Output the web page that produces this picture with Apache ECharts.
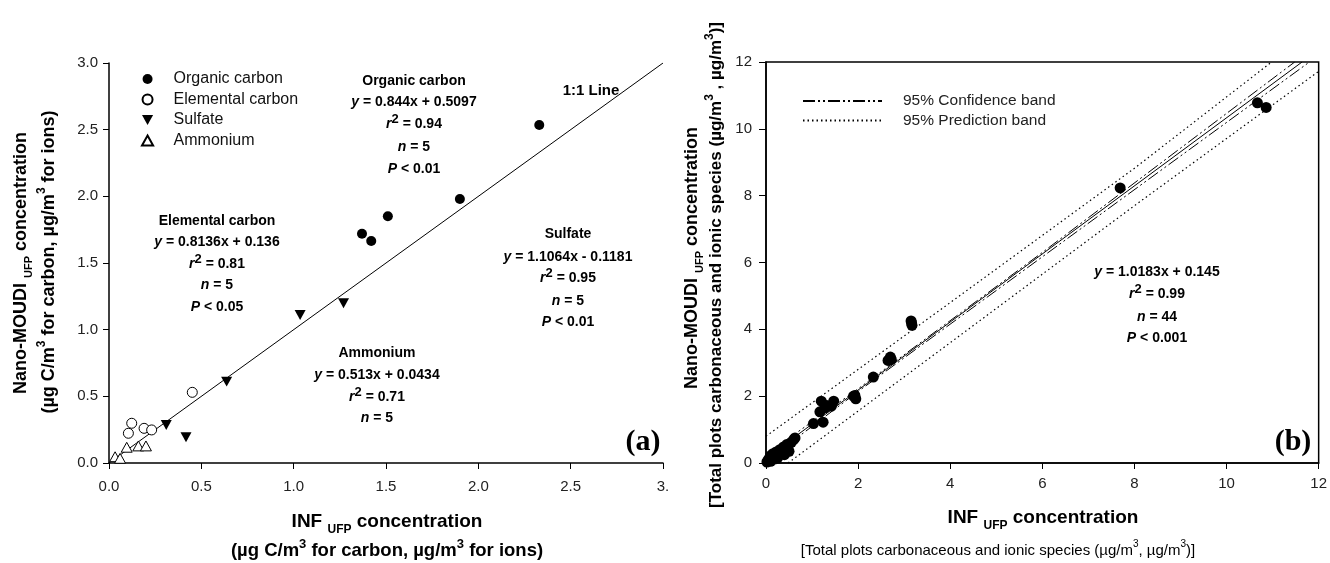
<!DOCTYPE html>
<html>
<head>
<meta charset="utf-8">
<script src="https://cdn.jsdelivr.net/npm/echarts@6/dist/echarts.min.js"></script>
<style>
html,body{margin:0;padding:0;background:#fff;}
#chart{width:1330px;height:563px;}
</style>
</head>
<body>
<div id="chart"></div>
<script>
// ---------- Data (panel a) ----------
const organicCarbon = [[1.37,1.72],[1.42,1.665],[1.51,1.85],[1.90,1.98],[2.33,2.535]];
const elementalCarbon = [[0.105,0.223],[0.123,0.298],[0.19,0.26],[0.231,0.248],[0.451,0.53]];
const sulfate = [[0.31,0.285],[0.417,0.193],[0.637,0.61],[1.035,1.11],[1.27,1.198]];
const ammonium = [[0.033,0.047],[0.06,0.035],[0.096,0.118],[0.159,0.128],[0.2,0.128]];
const oneToOneLine = [[0,0],[3,3]];
const leftXTicks = ['0.0','0.5','1.0','1.5','2.0','2.5','3.'];
const leftYTicks = ['0.0','0.5','1.0','1.5','2.0','2.5','3.0'];

// ---------- Data (panel b) ----------
const totalPoints = [
  [0.02,0.03],[0.05,0.10],[0.08,0.15],[0.10,0.22],[0.12,0.18],[0.15,0.28],[0.18,0.12],[0.20,0.25],
  [0.22,0.33],[0.25,0.20],[0.28,0.35],[0.30,0.40],[0.35,0.30],[0.38,0.48],[0.40,0.25],[0.45,0.55],
  [0.48,0.40],[0.55,0.62],[0.60,0.70],[0.63,0.75],[1.03,1.18],[1.17,1.53],[1.20,1.85],[1.24,1.22],
  [1.28,1.65],[1.32,1.72],[1.42,1.70],[1.47,1.85],[1.93,2.02],[1.95,1.92],[1.90,2.00],[2.33,2.57],
  [2.65,3.07],[2.70,3.17],[2.72,3.10],[3.15,4.25],[3.17,4.12],[3.16,4.20],[7.69,8.23],[10.67,10.78],
  [10.86,10.64],[0.10,0.05],[0.25,0.15],[0.50,0.35]
];
const regressionLine = [[0,0.145],[11.64,12]];
const confUpper = [[0,0.25],[2,2.22],[6,6.30],[11.48,12]];
const confLower = [[0,0.05],[2,2.14],[6,6.17],[11.8,12]];
const predUpper = [[0,0.80],[4,4.80],[8,8.82],[10.98,12]];
const predLower = [[0.48,0],[4,3.60],[8,7.70],[12,11.72]];
const rightTicks = ['0','2','4','6','8','10','12'];

const FF = '"Liberation Sans", Arial, sans-serif';
const black = '#000';

function mkRich(fs) {
  return {
    b: {fontFamily: FF, fontSize: fs, fontWeight: 'bold', color: '#111', lineHeight: fs + 9},
    i: {fontFamily: FF, fontSize: fs, fontWeight: 'bold', fontStyle: 'italic', color: '#111', lineHeight: fs + 9},
    sup: {fontFamily: FF, fontSize: fs - 1, fontWeight: 'bold', color: '#111', verticalAlign: 'top', lineHeight: fs},
  };
}
function ann(x, y, text, fs) {
  return {type: 'text', x: x, y: y, silent: true,
    style: {text: text, rich: mkRich(fs || 14), align: 'center', verticalAlign: 'middle'}};
}
function title(x, y, text, rot, size, weight) {
  const w = weight || 'bold';
  const rich = {
    t: {fontFamily: FF, fontSize: size, fontWeight: w, color: '#111', lineHeight: size + 8},
    sub: {fontFamily: FF, fontSize: Math.round(size * 0.62), fontWeight: w, color: '#111', verticalAlign: 'bottom', lineHeight: Math.round(size * 0.7)},
    sup: {fontFamily: FF, fontSize: Math.round(size * 0.68), fontWeight: w, color: '#111', verticalAlign: 'top', lineHeight: Math.round(size * 0.7)},
  };
  return {type: 'text', x: x, y: y, rotation: rot || 0, silent: true,
    style: {text: text, rich: rich, align: 'center', verticalAlign: 'middle'}};
}

const axisLabelStyle = {fontFamily: FF, fontSize: 15, color: '#222'};

const option = {
  animation: false,
  backgroundColor: '#fff',
  grid: [
    {left: 109, top: 63, width: 554, height: 400, containLabel: false},
    {left: 766, top: 62, width: 554, height: 401, containLabel: false, show: true, borderColor: black, borderWidth: 1.5, backgroundColor: 'transparent'}
  ],
  xAxis: [
    {gridIndex: 0, type: 'value', min: 0, max: 3, interval: 0.5,
     axisLine: {onZero: false, lineStyle: {color: black, width: 1.5}},
     axisTick: {show: true, inside: false, length: 6, lineStyle: {color: black}},
     axisLabel: {margin: 16, ...axisLabelStyle, formatter: v => leftXTicks[Math.round(v / 0.5)]},
     splitLine: {show: false}},
    {gridIndex: 1, type: 'value', min: 0, max: 12, interval: 2,
     axisLine: {onZero: false, lineStyle: {color: black, width: 1.5}},
     axisTick: {show: true, inside: false, length: 6, lineStyle: {color: black}},
     axisLabel: {margin: 13, ...axisLabelStyle, formatter: v => rightTicks[Math.round(v / 2)]},
     splitLine: {show: false}}
  ],
  yAxis: [
    {gridIndex: 0, type: 'value', min: 0, max: 3, interval: 0.5,
     axisLine: {show: true, onZero: false, lineStyle: {color: black, width: 1.5}},
     axisTick: {show: true, inside: false, length: 6, lineStyle: {color: black}},
     axisLabel: {margin: 11, ...axisLabelStyle, formatter: v => leftYTicks[Math.round(v / 0.5)]},
     splitLine: {show: false}},
    {gridIndex: 1, type: 'value', min: 0, max: 12, interval: 2,
     axisLine: {show: true, onZero: false, lineStyle: {color: black, width: 1.5}},
     axisTick: {show: true, inside: false, length: 7, lineStyle: {color: black}},
     axisLabel: {margin: 14, ...axisLabelStyle, formatter: v => rightTicks[Math.round(v / 2)]},
     splitLine: {show: false}}
  ],
  legend: [
    {orient: 'vertical', left: 136, top: 66, itemWidth: 42, itemHeight: 10, itemGap: 4.5,
     textStyle: {fontFamily: FF, fontSize: 16, color: '#111'},
     data: ['Organic carbon', 'Elemental carbon', 'Sulfate', 'Ammonium'], selectedMode: false},
    {orient: 'vertical', left: 797, top: 88, itemWidth: 79, itemHeight: 10, itemGap: 3.5,
     itemStyle: {opacity: 0},
     textStyle: {fontFamily: FF, fontSize: 15.5, color: '#222', padding: [0, 0, 0, 16]},
     data: ['95% Confidence band', '95% Prediction band'], selectedMode: false}
  ],
  series: [
    {name: '1:1 Line', type: 'line', xAxisIndex: 0, yAxisIndex: 0, data: oneToOneLine,
     showSymbol: false, symbol: 'none', lineStyle: {color: black, width: 1}, z: 1},
    {name: 'Organic carbon', type: 'scatter', xAxisIndex: 0, yAxisIndex: 0, data: organicCarbon,
     symbol: 'circle', symbolSize: 10, itemStyle: {color: black, opacity: 1}, z: 3},
    {name: 'Elemental carbon', type: 'scatter', xAxisIndex: 0, yAxisIndex: 0, data: elementalCarbon,
     symbol: 'circle', symbolSize: 10, itemStyle: {color: '#fff', borderColor: black, borderWidth: 1, opacity: 1}, z: 3},
    {name: 'Sulfate', type: 'scatter', xAxisIndex: 0, yAxisIndex: 0, data: sulfate,
     symbol: 'path://M0,0L10,0L5,9Z', symbolKeepAspect: true, symbolSize: 11, itemStyle: {color: black, opacity: 1}, z: 3},
    {name: 'Ammonium', type: 'scatter', xAxisIndex: 0, yAxisIndex: 0, data: ammonium,
     symbol: 'path://M5,0L10,9L0,9Z', symbolKeepAspect: true, symbolSize: 11, itemStyle: {color: '#fff', borderColor: black, borderWidth: 1, opacity: 1}, z: 3},

    {name: 'Regression', type: 'line', xAxisIndex: 1, yAxisIndex: 1, data: regressionLine,
     showSymbol: false, symbol: 'none', lineStyle: {color: black, width: 1}, z: 2},
    {name: '95% Confidence band', type: 'line', xAxisIndex: 1, yAxisIndex: 1, data: confUpper,
     showSymbol: false, symbol: 'none', itemStyle: {color: black}, lineStyle: {color: black, width: 1, type: [12, 3, 2, 3, 2, 3]}, z: 2},
    {name: '95% Confidence band', type: 'line', xAxisIndex: 1, yAxisIndex: 1, data: confLower,
     showSymbol: false, symbol: 'none', itemStyle: {color: black}, lineStyle: {color: black, width: 1, type: [12, 3, 2, 3, 2, 3]}, z: 2},
    {name: '95% Prediction band', type: 'line', xAxisIndex: 1, yAxisIndex: 1, data: predUpper,
     showSymbol: false, symbol: 'none', itemStyle: {color: black}, lineStyle: {color: black, width: 1.2, type: [1.5, 3]}, z: 2},
    {name: '95% Prediction band', type: 'line', xAxisIndex: 1, yAxisIndex: 1, data: predLower,
     showSymbol: false, symbol: 'none', itemStyle: {color: black}, lineStyle: {color: black, width: 1.2, type: [1.5, 3]}, z: 2},
    {name: 'Total', type: 'scatter', xAxisIndex: 1, yAxisIndex: 1, data: totalPoints,
     symbol: 'circle', symbolSize: 11, itemStyle: {color: black, opacity: 1}, z: 3}
  ],
  graphic: [
    // panel a annotations
    ann(591, 91, '{b|1:1 Line}', 15),
    ann(414, 81, '{b|Organic carbon}'),
    ann(414, 102, '{i|y}{b| = 0.844x + 0.5097}'),
    ann(414, 124, '{i|r}{sup|2}{b| = 0.94}'),
    ann(414, 147, '{i|n}{b| = 5}'),
    ann(414, 169, '{i|P}{b| < 0.01}'),
    ann(217, 221, '{b|Elemental carbon}'),
    ann(217, 242, '{i|y}{b| = 0.8136x + 0.136}'),
    ann(217, 264, '{i|r}{sup|2}{b| = 0.81}'),
    ann(217, 285, '{i|n}{b| = 5}'),
    ann(217, 307, '{i|P}{b| < 0.05}'),
    ann(568, 234, '{b|Sulfate}'),
    ann(568, 257, '{i|y}{b| = 1.1064x - 0.1181}'),
    ann(568, 278, '{i|r}{sup|2}{b| = 0.95}'),
    ann(568, 301, '{i|n}{b| = 5}'),
    ann(568, 322, '{i|P}{b| < 0.01}'),
    ann(377, 353, '{b|Ammonium}'),
    ann(377, 375, '{i|y}{b| = 0.513x + 0.0434}'),
    ann(377, 397, '{i|r}{sup|2}{b| = 0.71}'),
    ann(377, 418, '{i|n}{b| = 5}'),
    {type: 'text', x: 643, y: 442, silent: true, style: {text: '(a)', align: 'center', verticalAlign: 'middle', font: 'bold 30px "Liberation Serif", "Times New Roman", serif', fill: '#000'}},
    // panel b annotations
    ann(1157, 272, '{i|y}{b| = 1.0183x + 0.145}'),
    ann(1157, 294, '{i|r}{sup|2}{b| = 0.99}'),
    ann(1157, 317, '{i|n}{b| = 44}'),
    ann(1157, 338, '{i|P}{b| < 0.001}'),
    {type: 'text', x: 1293, y: 442, silent: true, style: {text: '(b)', align: 'center', verticalAlign: 'middle', font: 'bold 30px "Liberation Serif", "Times New Roman", serif', fill: '#000'}},
    // axis titles panel a
    title(21, 263, '{t|Nano-MOUDI }{sub|UFP}{t| concentration}', Math.PI / 2, 18),
    title(49, 262, '{t|(µg C/m}{sup|3}{t| for carbon, µg/m}{sup|3}{t| for ions)}', Math.PI / 2, 18),
    title(387, 522, '{t|INF }{sub|UFP}{t| concentration}', 0, 19),
    title(387, 551, '{t|(µg C/m}{sup|3}{t| for carbon, µg/m}{sup|3}{t| for ions)}', 0, 18.5),
    // axis titles panel b
    title(692, 258, '{t|Nano-MOUDI }{sub|UFP}{t| concentration}', Math.PI / 2, 18),
    title(716, 265, '{t|[Total plots carbonaceous and ionic species (µg/m}{sup|3}{t| , µg/m}{sup|3}{t|)]}', Math.PI / 2, 17),
    title(1043, 518, '{t|INF }{sub|UFP}{t| concentration}', 0, 19),
    title(998, 551, '{t|[Total plots carbonaceous and ionic species (µg/m}{sup|3}{t|, µg/m}{sup|3}{t|)]}', 0, 15, 'normal')
  ]
};

const chart = echarts.init(document.getElementById('chart'), null, {renderer: 'canvas'});
chart.setOption(option);
</script>
</body>
</html>
